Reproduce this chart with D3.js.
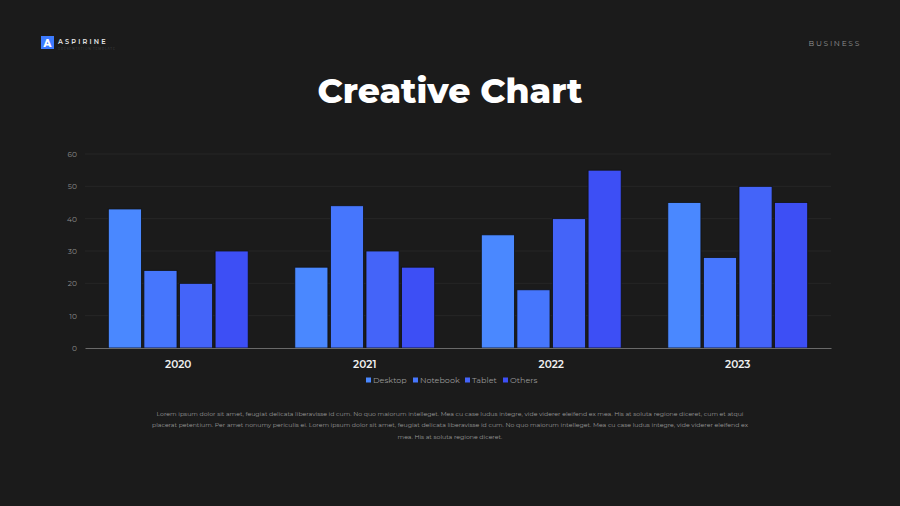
<!DOCTYPE html>
<html lang="en">
  <head>
    <meta charset="UTF-8" />
    <title>Creative Chart</title>
    <style>
      html, body { margin: 0; padding: 0; background: #1b1b1b; }
      svg { display: block; }
    </style>
  </head>
  <body>
    <svg width="900" height="506"></svg>

    <script src="https://d3js.org/d3.v7.min.js"></script>
    <script>
      // Chart data
      const years = ["2020", "2021", "2022", "2023"];
      const seriesNames = ["Desktop", "Notebook", "Tablet", "Others"];
      const desktop = [43, 25, 35, 45];
      const notebook = [24, 44, 18, 28];
      const tablet = [20, 30, 40, 50];
      const others = [30, 25, 55, 45];
      const yTicks = [0, 10, 20, 30, 40, 50, 60];
      const colors = ["#4a88ff", "#4676fd", "#4464f9", "#3d4ff5"];

      const paragraph = [
        "Lorem ipsum dolor sit amet, feugiat delicata liberavisse id cum. No quo maiorum intelleget.  Mea cu case ludus integre, vide viderer eleifend ex mea. His at soluta regione diceret, cum et atqui",
        "placerat petentium. Per amet nonumy periculis ei. Lorem ipsum dolor sit amet, feugiat delicata liberavisse id cum. No quo maiorum intelleget.  Mea cu case ludus integre, vide viderer eleifend ex",
        "mea. His at soluta regione diceret.",
      ];

      const values = [desktop, notebook, tablet, others];
      const rows = years.map((y, i) => ({
        year: y,
        vals: seriesNames.map((s, j) => ({ key: s, value: values[j][i] })),
      }));

      const svg = d3.select("svg");
      const font = "Montserrat, Inter, 'Open Sans', sans-serif";

      // header
      svg.append("rect").attr("x", 41).attr("y", 36).attr("width", 13).attr("height", 13).attr("fill", "#3d7bff");
      svg.append("text").attr("x", 47.5).attr("y", 46.5).attr("text-anchor", "middle")
        .attr("font-family", font).attr("font-weight", 800).attr("font-size", 10).attr("fill", "#fff").text("A");
      svg.append("text").attr("x", 58).attr("y", 43.5)
        .attr("font-family", font).attr("font-weight", 600).attr("font-size", 6.5)
        .attr("letter-spacing", 2.2).attr("fill", "#e6e6e6").text("ASPIRINE");
      svg.append("text").attr("x", 58).attr("y", 49.5)
        .attr("font-family", font).attr("font-size", 3)
        .attr("letter-spacing", 0.8).attr("fill", "#444").text("PRESENTATION TEMPLATE");

      svg.append("text").attr("x", 861).attr("y", 46).attr("text-anchor", "end")
        .attr("font-family", font).attr("font-size", 7.5).attr("letter-spacing", 1.7)
        .attr("fill", "#929292").text("BUSINESS");

      svg.append("text").attr("x", 450).attr("y", 103).attr("text-anchor", "middle")
        .attr("font-family", font).attr("font-weight", 800).attr("font-size", 34.5)
        .attr("fill", "#ffffff").text("Creative Chart");

      // scales
      const plotLeft = 85, plotRight = 831, plotTop = 154, plotBottom = 348;

      const x0 = d3.scaleBand().domain(years).range([plotLeft, plotRight]).paddingInner(0.25).paddingOuter(0.125);
      const x1 = d3.scaleBand().domain(seriesNames).range([0, x0.bandwidth()]).paddingInner(0.07);
      const y = d3.scaleLinear().domain([0, 60]).range([plotBottom, plotTop]);

      // grid
      svg.append("g")
        .selectAll("line")
        .data(yTicks.slice(1))
        .enter()
        .append("line")
        .attr("x1", plotLeft)
        .attr("x2", plotRight)
        .attr("y1", (d) => y(d))
        .attr("y2", (d) => y(d))
        .attr("stroke", "#262626")
        .attr("stroke-width", 1);

      // y axis labels
      const yAxis = d3.axisLeft(y).tickValues(yTicks).tickSize(0).tickPadding(8);
      const gy = svg.append("g").attr("transform", "translate(" + plotLeft + ",0)").call(yAxis);
      gy.select(".domain").remove();
      gy.selectAll("text").attr("font-family", font).attr("font-size", 7.5).attr("fill", "#8c8c8c");

      // bars
      svg.append("g")
        .selectAll("g")
        .data(rows)
        .enter()
        .append("g")
        .attr("transform", (d) => "translate(" + x0(d.year) + ",0)")
        .selectAll("rect")
        .data((d) => d.vals)
        .enter()
        .append("rect")
        .attr("x", (d) => x1(d.key))
        .attr("y", (d) => y(d.value))
        .attr("width", x1.bandwidth())
        .attr("height", (d) => plotBottom - y(d.value))
        .attr("fill", (d, i) => colors[i])
        .attr("stroke", "#111")
        .attr("stroke-width", 0.8);

      // x axis
      const xAxis = d3.axisBottom(x0).tickSize(0).tickPadding(13);
      const gx = svg.append("g").attr("transform", "translate(0," + plotBottom + ")").call(xAxis);
      gx.select(".domain").attr("stroke", "#6a6a6a").attr("stroke-width", 1.2);
      gx.selectAll("text").attr("font-family", font).attr("font-weight", 600)
        .attr("font-size", 10.5).attr("fill", "#f0f0f0");

      // legend
      const legendX = [366, 413, 465, 503];
      const legend = svg.append("g")
        .selectAll("g")
        .data(seriesNames)
        .enter()
        .append("g")
        .attr("transform", (d, i) => "translate(" + legendX[i] + ",376)");
      legend.append("rect").attr("width", 5).attr("height", 5).attr("y", 1.5)
        .attr("fill", (d, i) => colors[i]);
      legend.append("text").attr("x", 7).attr("y", 6.8)
        .attr("font-family", font).attr("font-size", 8).attr("fill", "#999")
        .text((d) => d);

      // paragraph
      svg.append("g")
        .selectAll("text")
        .data(paragraph)
        .enter()
        .append("text")
        .attr("x", 450)
        .attr("y", (d, i) => 415.5 + i * 11.5)
        .attr("text-anchor", "middle")
        .attr("font-family", font)
        .attr("font-size", 6.2)
        .attr("fill", "#9a9a9a")
        .text((d) => d);
    </script>
  </body>
</html>
